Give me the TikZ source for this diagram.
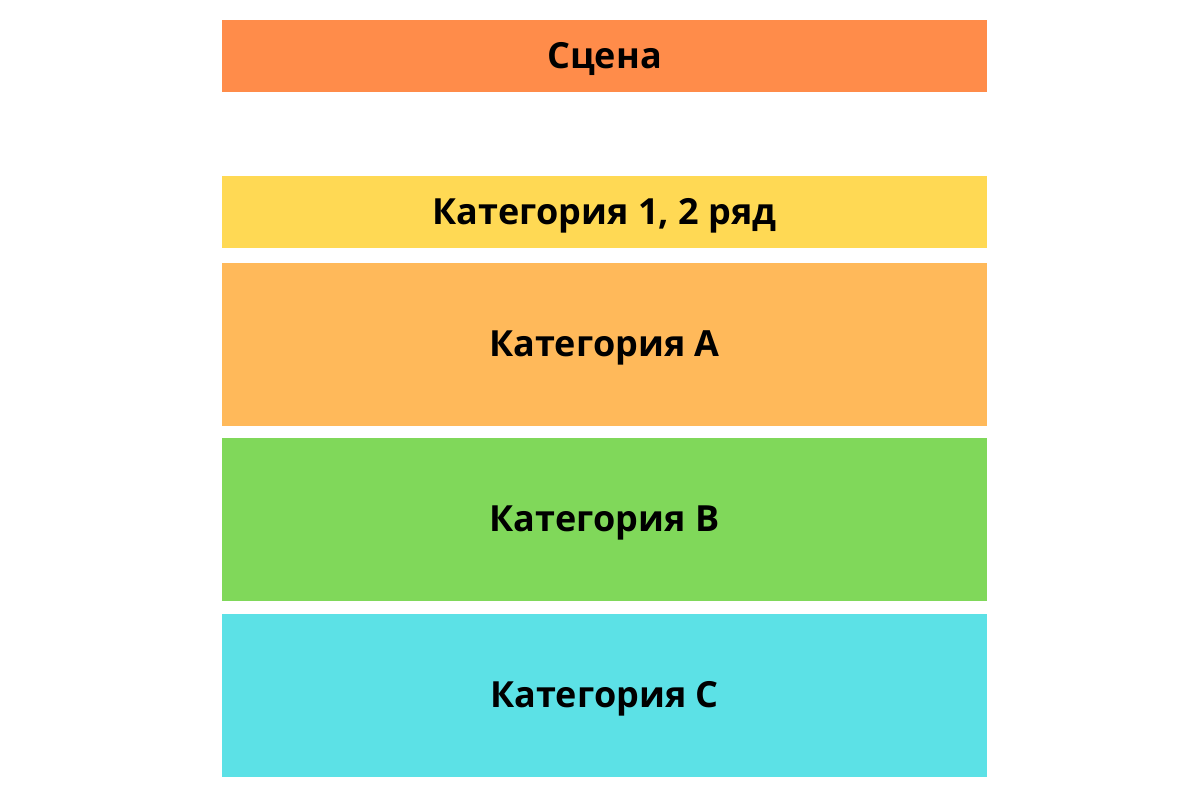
\documentclass[tikz,border=0pt]{standalone}
\usepackage{fontspec}
\setmainfont{Open Sans}
\usetikzlibrary{positioning}
\definecolor{scene1}{RGB}{255,140,74}
\definecolor{yellow1}{RGB}{255,217,84}
\definecolor{orange1}{RGB}{255,185,90}
\definecolor{green1}{RGB}{128,216,90}
\definecolor{cyan1}{RGB}{92,225,230}

\begin{document}
\begin{tikzpicture}[
    x=1pt, y=-1pt,
    band/.style={rectangle, minimum width=765pt, inner sep=0pt, anchor=north,
        text depth=2pt, font=\fontsize{36}{42}\selectfont\bfseries}
]
\useasboundingbox (0,0) rectangle (1200,800);
\fill[white] (0,0) rectangle (1200,800);

% Stage
\node[band, fill=scene1, minimum height=72pt] (scene) at (604.5,20) {Сцена};

% Seating categories
\node[band, fill=yellow1, minimum height=72pt] (cat12) at (604.5,176) {Категория 1, 2 ряд};
\node[band, fill=orange1, minimum height=163pt, below=14pt of cat12] (catA) {Категория A};
\node[band, fill=green1, minimum height=163pt, below=12pt of catA] (catB) {Категория B};
\node[band, fill=cyan1, minimum height=163pt, below=13pt of catB] (catC) {Категория C};

\end{tikzpicture}
\end{document}
